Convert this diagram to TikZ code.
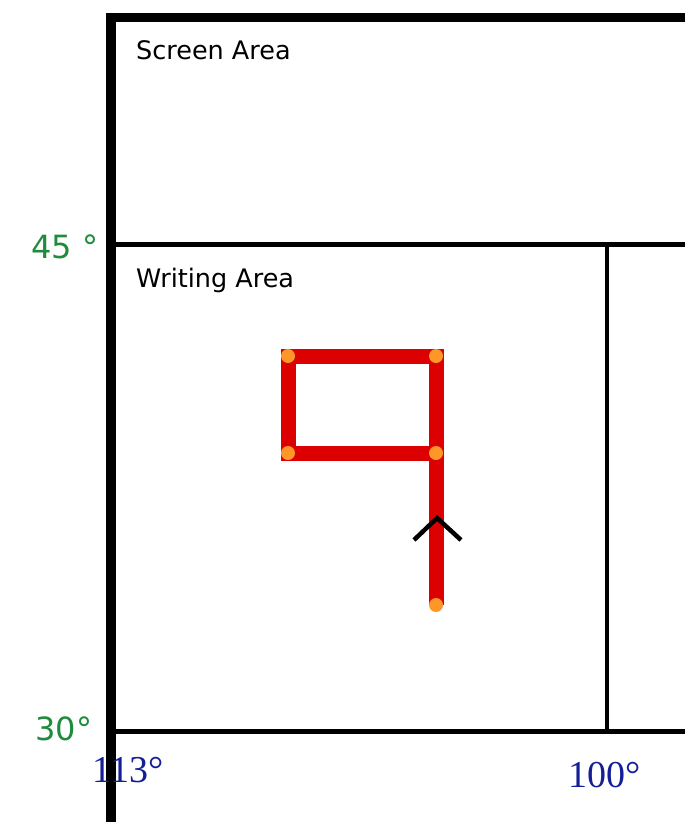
\documentclass[tikz,border=0pt]{standalone}
\usepackage{fontspec}
\setmainfont{DejaVu Sans}
\newfontfamily\numfont{Liberation Serif}
\definecolor{stroke}{RGB}{221,0,0}
\definecolor{dotc}{RGB}{255,150,40}
\definecolor{greenlab}{RGB}{30,140,60}
\definecolor{bluelab}{RGB}{20,30,150}
\begin{document}
\begin{tikzpicture}[x=1pt,y=-1pt,
  frame/.style={line width=5pt},
  area/.style={anchor=west,font=\fontsize{25.5}{27}\selectfont,inner sep=0pt},
  latlab/.style={text=greenlab,font=\fontsize{32}{34}\selectfont,inner sep=0pt},
  lonlab/.style={text=bluelab,font=\numfont\fontsize{38}{40}\selectfont,inner sep=0pt},
  pen/.style={draw=stroke,line width=15pt,line join=miter},
  vdot/.style={circle,fill=dotc,minimum size=14pt,inner sep=0pt},
  chevron/.style={line width=4.5pt}]
\useasboundingbox (0,0) rectangle (685,822);
% frame lines
\draw[line width=10pt] (111,13) -- (111,822);
\draw[line width=9pt] (106,17.5) -- (685,17.5);
\draw[frame] (111,244) -- (685,244);
\draw[frame] (111,731) -- (685,731);
\draw[line width=4pt] (607,244) -- (607,731);
% labels
\node[area] (screen) at (136,50) {Screen Area};
\node[area] (writing) at (136,280) {Writing Area};
\node[latlab] (l45) at (65,247) {45 °};
\node[latlab] (l30) at (64,729) {30°};
\node[lonlab] (l113) at (128,770) {113°};
\node[lonlab] (l100) at (605,775) {100°};
% stroke
\coordinate (p0) at (436,605);
\coordinate (p1) at (436,453);
\coordinate (p2) at (436,356);
\coordinate (p3) at (288,356);
\coordinate (p4) at (288,453);
\draw[pen] (p0) -- (p1) -- (p2) -- (p3) -- (p4) -- (p1);
\foreach \p in {p0,p1,p2,p3,p4} \node[vdot] (d\p) at (\p) {};
% direction chevron
\coordinate (cl) at (414,540);
\coordinate (ca) at (437,518);
\coordinate (cr) at (461,540);
\draw[chevron] (cl) -- (ca) -- (cr);
\end{tikzpicture}
\end{document}
